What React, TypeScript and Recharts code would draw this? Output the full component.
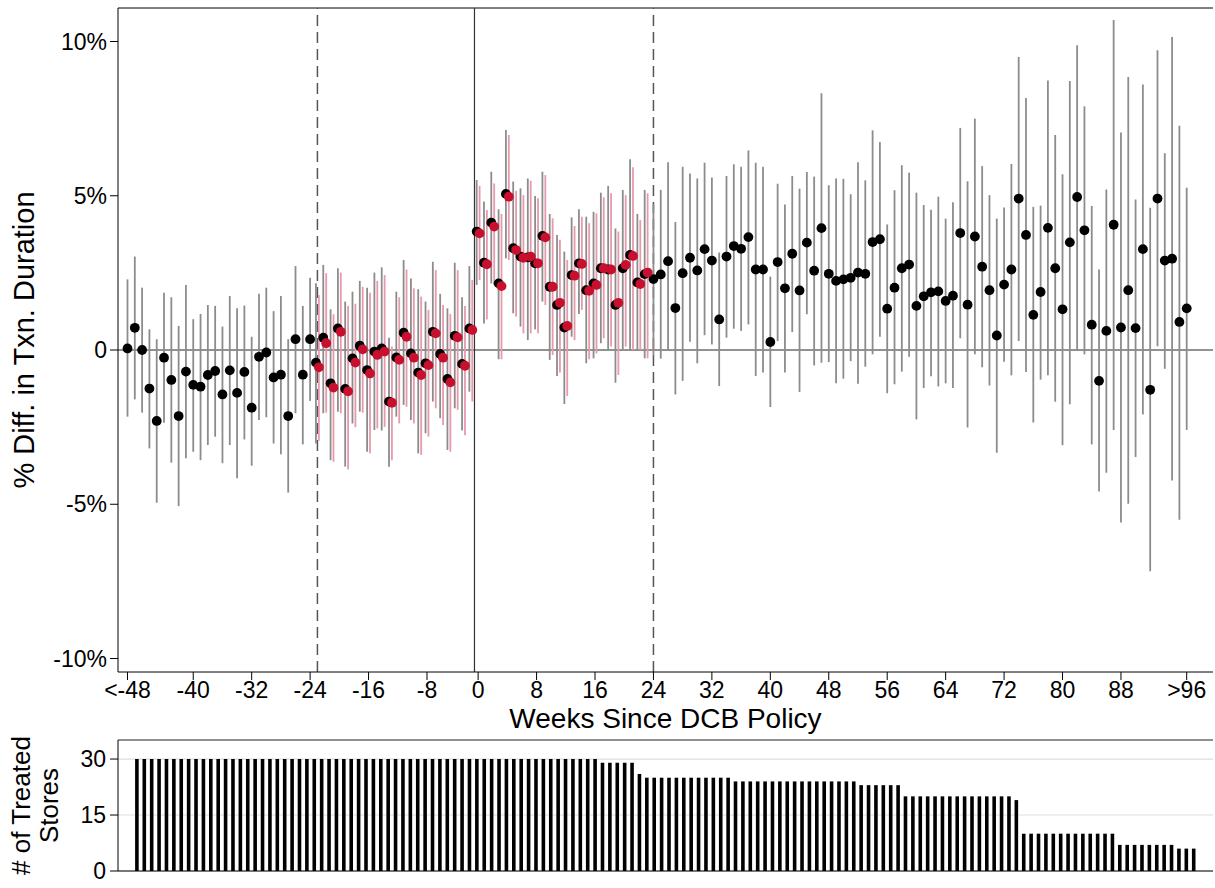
import React from 'react';
import {
  ComposedChart,
  Scatter,
  ErrorBar,
  XAxis,
  YAxis,
  ReferenceLine,
  BarChart,
  Bar,
  CartesianGrid,
  Label,
} from 'recharts';

// ---- x axis (event-time index; week -1 is the omitted reference week) ----
const weekTickIdx = [0, 9, 17, 25, 33, 41, 48, 56, 64, 72, 80, 88, 96, 104, 112, 120, 128, 136, 145];
const weekLabels = ['<-48', '-40', '-32', '-24', '-16', '-8', '0', '8', '16', '24', '32', '40', '48', '56', '64', '72', '80', '88', '>96'];

// ---- main estimates (% diff), one per week index 0..145 ----
const estimate = [
  0.05, 0.72, 0.0, -1.25, -2.3, -0.25, -0.97, -2.14, -0.7, -1.13, -1.19, -0.81, -0.68, -1.44, -0.66, -1.39, -0.71, -1.87, -0.22, -0.08, -0.89, -0.8, -2.14, 0.35, -0.8, 0.35,
  -0.41, 0.4, -1.08, 0.7, -1.26, -0.27, 0.14, -0.65, -0.05, 0.05, -1.67, -0.24, 0.56, -0.11, -0.73, -0.43, 0.59, -0.13, -0.94, 0.46, -0.45, 0.7,
  3.84, 2.83, 4.13, 2.16, 5.06, 3.3, 3.03, 3.0, 2.81, 3.7, 2.05, 1.46, 0.73, 2.43, 2.81, 1.94, 2.16, 2.65, 2.61, 1.46, 2.65, 3.08, 2.19, 2.46,
  2.3, 2.45, 2.88, 1.36, 2.49, 2.99, 2.58, 3.27, 2.9, 0.99, 3.03, 3.37, 3.28, 3.66, 2.61, 2.61, 0.26, 2.85, 2.0, 3.12, 1.93, 3.48, 2.57, 3.95, 2.47, 2.24, 2.29, 2.34, 2.51, 2.47, 3.5, 3.59, 1.34, 2.02, 2.65, 2.77, 1.43, 1.74, 1.87,
  1.9, 1.59, 1.76, 3.79, 1.47, 3.68, 2.7, 1.94, 0.47, 2.12, 2.61, 4.91, 3.73, 1.14, 1.88, 3.96, 2.65, 1.32, 3.49, 4.96, 3.88, 0.82, -1.0, 0.62, 4.06, 0.73, 1.94, 0.71, 3.27, -1.29, 4.91, 2.9, 2.96, 0.91, 1.35,
];
const ciLow = [
  -2.16, -1.6, -2.03, -3.19, -4.95, -2.36, -3.65, -5.06, -3.51, -3.3, -3.57, -3.08, -2.81, -3.67, -3.08, -4.16, -2.9, -3.75, -2.27, -2.18, -3.03, -3.38, -4.62, -2.05, -3.06, -1.65,
  -3.03, -2.05, -3.57, -2.0, -3.78, -2.38, -2.0, -3.3, -2.59, -2.61, -3.78, -2.16, -1.78, -2.27, -3.35, -2.7, -1.67, -2.21, -3.24, -1.89, -2.61, -1.35,
  2.11, 0.86, 2.16, -0.3, 2.97, 1.19, 0.76, 0.32, 0.67, 1.57, -0.32, -0.84, -1.75, 0.43, 1.17, -0.43, -0.27, 0.22, -0.02, -1.06, 0.02, -0.03, 0.01, -0.27,
  -0.18, -0.28, -0.03, -1.44, -1.0, 0.27, -0.43, 0.48, 0.18, -1.17, 0.4, 0.69, 0.62, 0.83, -0.84, -0.73, -1.85, 0.29, -0.73, 0.58, -1.36, 1.16, -0.5, -0.41, -0.39, -1.08, -0.93, -0.36, -1.09, -0.54, -0.14, 0.43, -1.4, -1.11, -0.7, -0.22, -2.25, -1.23, -0.85,
  -1.18, -1.08, -1.23, 0.38, -2.51, -0.14, -0.56, -1.15, -3.33, -0.38, -0.82, 0.29, -0.71, -2.35, -0.96, -0.82, -1.68, -3.09, -1.76, -0.02, -0.14, -3.06, -4.59, -3.98, -2.59, -5.59, -4.98, -3.47, -2.09, -7.17, 0.12, -0.61, -4.23, -5.5, -2.59,
];
const ciHigh = [
  2.29, 3.03, 2.02, 0.67, 0.35, 1.86, 1.71, 0.78, 2.11, 1.0, 1.17, 1.46, 1.43, 0.76, 1.75, 1.35, 1.44, 0.43, 1.82, 2.02, 1.26, 1.75, 0.35, 2.72, 1.43, 2.34,
  2.16, 2.76, 1.32, 2.65, 1.57, 1.89, 2.24, 2.02, 2.51, 2.68, 0.4, 1.89, 2.92, 2.32, 1.97, 1.57, 2.86, 1.82, 1.35, 2.83, 1.71, 2.72,
  5.51, 4.81, 5.78, 4.56, 7.13, 5.46, 5.24, 5.56, 4.99, 5.78, 4.41, 3.73, 3.19, 4.3, 4.56, 4.32, 4.48, 5.1, 5.32, 3.94, 5.19, 6.18, 4.41, 5.19,
  4.71, 5.19, 6.09, 4.15, 5.94, 5.72, 5.56, 6.07, 5.59, 3.16, 5.64, 6.02, 5.94, 6.47, 6.07, 5.94, 2.38, 5.39, 4.72, 5.64, 5.23, 5.77, 5.62, 8.32, 5.34, 5.56, 5.55, 5.05, 6.09, 5.5, 7.12, 6.74, 4.07, 5.18, 5.99, 5.75, 5.1, 4.7, 4.55,
  4.97, 4.26, 4.79, 7.2, 5.47, 7.5, 5.96, 5.02, 4.26, 4.62, 6.03, 9.5, 8.17, 4.64, 4.68, 8.74, 6.97, 5.7, 8.72, 9.88, 7.9, 4.67, 2.61, 5.2, 10.7, 7.05, 8.85, 4.88, 8.61, 4.61, 9.72, 6.38, 10.15, 7.27, 5.26,
];

// ---- alternative estimates (red), week indices 26..71 ----
const RED_START = 26;
const redEstimate = [
  -0.56, 0.22, -1.22, 0.59, -1.34, -0.41, 0.02, -0.76, -0.16, -0.05, -1.71, -0.32, 0.43, -0.25, -0.81, -0.49, 0.54, -0.25, -1.05, 0.41, -0.51, 0.65,
  3.78, 2.78, 4.0, 2.07, 4.97, 3.24, 2.99, 3.03, 2.81, 3.65, 2.05, 1.53, 0.78, 2.41, 2.79, 1.92, 2.11, 2.65, 2.61, 1.53, 2.76, 3.05, 2.14, 2.51,
];
const redLow = [
  -2.94, -2.03, -3.62, -2.05, -3.87, -2.5, -2.03, -3.35, -2.54, -2.49, -3.57, -2.38, -1.84, -2.38, -3.4, -2.81, -1.89, -2.43, -3.3, -1.94, -2.76, -1.67,
  2.27, 0.99, 2.11, -0.3, 2.92, 1.08, 0.54, 0.54, 0.54, 1.46, -0.16, -0.73, -1.49, 0.32, 1.3, -0.3, -0.11, 0.38, 0.11, -0.81, 0.11, 0.0, 0.0, -0.27,
];
const redHigh = [
  1.78, 2.49, 1.16, 2.51, 1.43, 1.5, 2.05, 1.86, 2.24, 2.43, 0.11, 1.71, 2.61, 2.0, 1.73, 1.3, 2.59, 1.46, 1.17, 2.59, 1.43, 2.27,
  5.32, 4.54, 5.4, 4.41, 6.97, 5.16, 5.02, 5.49, 4.92, 5.67, 4.27, 3.57, 2.92, 4.02, 4.32, 4.11, 4.43, 4.95, 5.08, 3.84, 5.02, 5.92, 4.21, 5.08,
];

// ---- number of treated stores per week (bottom panel) ----
const storeCounts = [
  30, 30, 30, 30, 30, 30, 30, 30, 30, 30, 30, 30, 30, 30, 30, 30, 30, 30, 30, 30, 30, 30, 30, 30, 30, 30, 30, 30, 30, 30, 30, 30,
  30, 30, 30, 30, 30, 30, 30, 30, 30, 30, 30, 30, 30, 30, 30, 30, 30, 30, 30, 30, 30, 30, 30, 30, 30, 30, 30, 30, 30, 30, 30,
  29, 29, 29, 29, 29, 26,
  25, 25, 25, 25, 25, 25, 25, 25, 25, 25, 25, 25,
  24, 24, 24, 24, 24, 24, 24, 24, 24, 24, 24, 24, 24, 24, 24, 24, 24,
  23, 23, 23, 23, 23, 23,
  20, 20, 20, 20, 20, 20, 20, 20, 20, 20, 20, 20, 20, 20, 20, 19,
  10, 10, 10, 10, 10, 10, 10, 10, 10, 10, 10, 10, 10,
  7, 7, 7, 7, 7, 7, 7, 7,
  6, 6, 6,
];
const storeTicks = [0, 15, 30];
const pctTicks = [-10, -5, 0, 5, 10];

// ---- chart setup ----
const FONT = "'Liberation Sans', Arial, Helvetica, sans-serif";
const X_MIN = -1.3;
const X_MAX = 148.6;
const Y_MIN = -10.437;
const Y_MAX = 11.086;
const S_MAX = 35.1;
const SHIFT = 0.2;

const redEnd = RED_START + redEstimate.length;
const blackData = estimate.map((v, i) => {
  const paired = i >= RED_START && i < redEnd;
  return { x: paired ? i - SHIFT : i, y: v, err: [v - ciLow[i], ciHigh[i] - v] };
});
const redData = redEstimate.map((v, k) => ({
  x: RED_START + k + SHIFT,
  y: v,
  err: [v - redLow[k], redHigh[k] - v],
}));
const barData = storeCounts.map((c, k) => ({ k, c }));

const Empty = () => <g />;
const BlackDot = (p: any) => <circle cx={p.cx} cy={p.cy} r={4.9} fill="#000" />;
const RedDot = (p: any) => <circle cx={p.cx} cy={p.cy} r={4.9} fill="#c8102e" />;

const tickStyle = { fill: '#000', fontSize: 23, fontFamily: FONT };

export default function App() {
  return (
    <div
      style={{
        position: 'absolute',
        left: 0,
        top: 0,
        width: 1215,
        height: 888,
        background: '#fff',
        fontFamily: FONT,
        overflow: 'hidden',
      }}
    >
      <ComposedChart width={1215} height={735} margin={{ top: 8, right: 2, bottom: 0, left: 0 }}>
        <XAxis
          type="number"
          dataKey="x"
          domain={[X_MIN, X_MAX]}
          allowDataOverflow
          ticks={weekTickIdx}
          interval={0}
          tickFormatter={(v: number) => weekLabels[weekTickIdx.indexOf(v)]}
          height={63}
          tickSize={8}
          tickMargin={2}
          stroke="#000"
          tick={tickStyle}
        >
          <Label
            value="Weeks Since DCB Policy"
            position="insideBottom"
            offset={7}
            style={{ fontSize: 28, fill: '#000', fontFamily: FONT }}
          />
        </XAxis>
        <YAxis
          type="number"
          dataKey="y"
          domain={[Y_MIN, Y_MAX]}
          allowDataOverflow
          ticks={pctTicks}
          interval={0}
          tickFormatter={(v: number) => (v === 0 ? '0' : `${v}%`)}
          width={118}
          tickSize={8}
          tickMargin={3}
          stroke="#000"
          tick={tickStyle}
        >
          <Label
            value="% Diff. in Txn. Duration"
            angle={-90}
            position="insideLeft"
            offset={24}
            style={{ textAnchor: 'middle', fontSize: 29, fill: '#000', fontFamily: FONT }}
          />
        </YAxis>
        <ReferenceLine y={Y_MAX} stroke="#000" strokeWidth={1} />
        <ReferenceLine y={0} stroke="#6e6e6e" strokeWidth={1.6} />
        <ReferenceLine x={26} stroke="#555" strokeWidth={1.5} strokeDasharray="11 6" />
        <ReferenceLine x={72} stroke="#555" strokeWidth={1.5} strokeDasharray="11 6" />
        <ReferenceLine x={47.5} stroke="#333" strokeWidth={1.2} />
        <Scatter data={blackData} isAnimationActive={false} shape={Empty}>
          <ErrorBar dataKey="err" direction="y" width={0} stroke="#8c8c8c" strokeWidth={1.8} isAnimationActive={false} />
        </Scatter>
        <Scatter data={redData} isAnimationActive={false} shape={Empty}>
          <ErrorBar dataKey="err" direction="y" width={0} stroke="#e79aac" strokeWidth={1.8} isAnimationActive={false} />
        </Scatter>
        <Scatter data={blackData} isAnimationActive={false} shape={BlackDot} />
        <Scatter data={redData} isAnimationActive={false} shape={RedDot} />
      </ComposedChart>

      <BarChart
        width={1215}
        height={153}
        data={barData}
        margin={{ top: 5, right: 2, bottom: 0, left: 0 }}
        barCategoryGap={0}
      >
        <CartesianGrid vertical={false} stroke="#dedede" strokeWidth={1.2} />
        <XAxis
          dataKey="k"
          type="category"
          tick={false}
          tickLine={false}
          height={17}
          stroke="#000"
          padding={{ left: 15.1, right: 15.7 }}
        />
        <YAxis
          type="number"
          domain={[0, S_MAX]}
          allowDataOverflow
          ticks={storeTicks}
          interval={0}
          width={118}
          tickSize={8}
          tickMargin={4}
          stroke="#000"
          tick={tickStyle}
        >
          <Label
            value="# of Treated"
            angle={-90}
            position="insideLeft"
            offset={21}
            style={{ textAnchor: 'middle', fontSize: 26, fill: '#000', fontFamily: FONT }}
          />
          <Label
            value="Stores"
            angle={-90}
            position="insideLeft"
            offset={49}
            style={{ textAnchor: 'middle', fontSize: 26, fill: '#000', fontFamily: FONT }}
          />
        </YAxis>
        <ReferenceLine y={S_MAX} stroke="#333" strokeWidth={1} />
        <Bar dataKey="c" fill="#000" barSize={3.6} isAnimationActive={false} />
      </BarChart>
    </div>
  );
}
